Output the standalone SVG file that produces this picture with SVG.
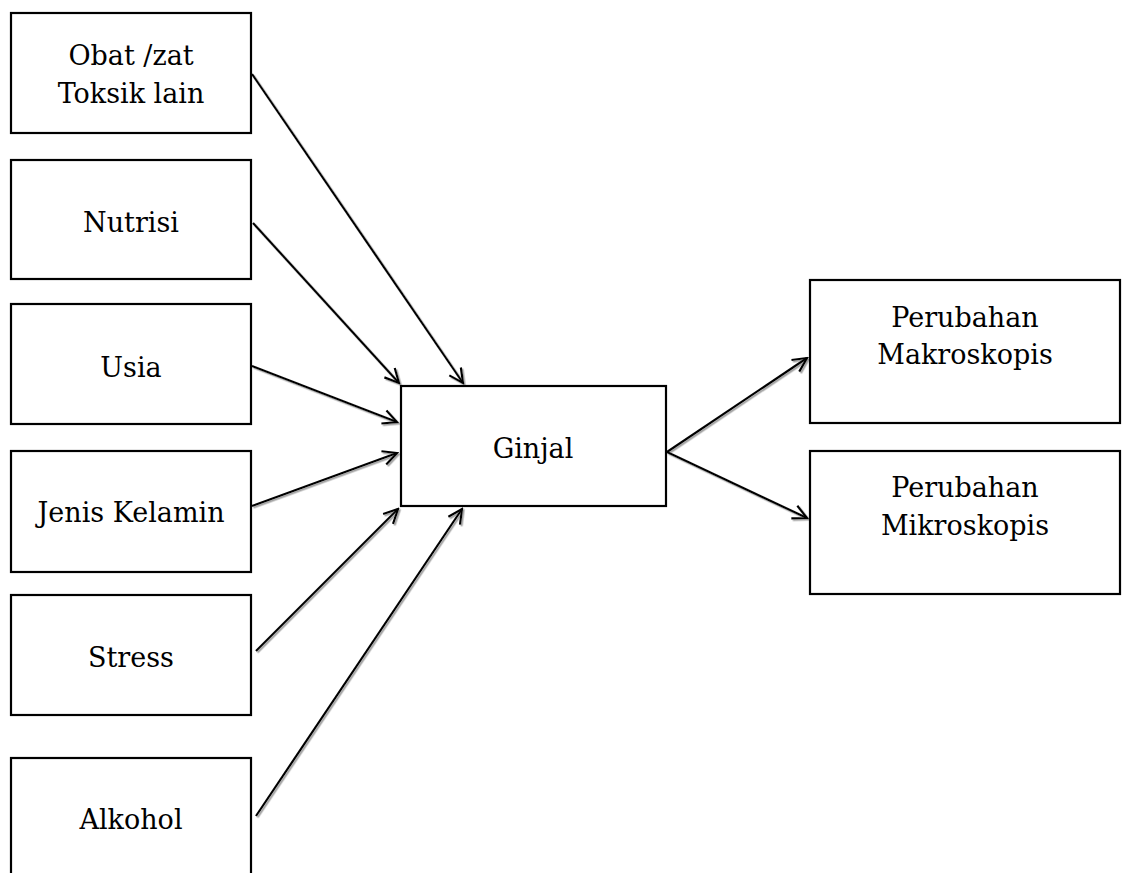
<svg xmlns="http://www.w3.org/2000/svg" width="1122" height="873" viewBox="0 0 1122 873">
<style>
.box{fill:#fff;stroke:#000;stroke-width:2.2}
.lbl{font-family:"DejaVu Serif","Liberation Serif",serif;font-size:27px;fill:#000;text-anchor:middle}
.conn{stroke:#000;stroke-width:2.2;fill:none;marker-end:url(#arr)}
</style>
<defs>
<marker id="arr" viewBox="0 0 20 20" refX="18" refY="10" markerWidth="20" markerHeight="20" markerUnits="userSpaceOnUse" orient="auto">
<path d="M4,3 L18,10 L4,17" fill="none" stroke="#000" stroke-width="2.2"/>
</marker>
<filter id="sh" x="-10%" y="-10%" width="120%" height="120%">
<feDropShadow dx="1.5" dy="1.5" stdDeviation="0.6" flood-color="#888" flood-opacity="0.8"/>
</filter>
</defs>
<g id="connectors" filter="url(#sh)">
<line class="conn" x1="252" y1="74" x2="463" y2="383"/>
<line class="conn" x1="253" y1="223" x2="399" y2="383"/>
<line class="conn" x1="252" y1="366" x2="397" y2="422"/>
<line class="conn" x1="252" y1="506" x2="397" y2="453"/>
<line class="conn" x1="256" y1="651" x2="398" y2="509"/>
<line class="conn" x1="256" y1="816" x2="462" y2="509"/>
<line class="conn" x1="667" y1="452" x2="807" y2="358"/>
<line class="conn" x1="667" y1="452" x2="807" y2="518"/>
</g>
<g id="n-obat"><rect class="box" x="11" y="13" width="240" height="120"/><text class="lbl" x="131" y="65">Obat /zat</text><text class="lbl" x="131" y="103">Toksik lain</text></g>
<g id="n-nutrisi"><rect class="box" x="11" y="160" width="240" height="119"/><text class="lbl" x="131" y="232">Nutrisi</text></g>
<g id="n-usia"><rect class="box" x="11" y="304" width="240" height="120"/><text class="lbl" x="131" y="377">Usia</text></g>
<g id="n-jenis"><rect class="box" x="11" y="451" width="240" height="121"/><text class="lbl" x="131" y="522">Jenis Kelamin</text></g>
<g id="n-stress"><rect class="box" x="11" y="595" width="240" height="120"/><text class="lbl" x="131" y="667">Stress</text></g>
<g id="n-alkohol"><rect class="box" x="11" y="758" width="240" height="130"/><text class="lbl" x="131" y="829">Alkohol</text></g>
<g id="n-ginjal"><rect class="box" x="401" y="386" width="265" height="120"/><text class="lbl" x="533" y="458">Ginjal</text></g>
<g id="n-makro"><rect class="box" x="810" y="280" width="310" height="143"/><text class="lbl" x="965" y="327">Perubahan</text><text class="lbl" x="965" y="364">Makroskopis</text></g>
<g id="n-mikro"><rect class="box" x="810" y="451" width="310" height="143"/><text class="lbl" x="965" y="497">Perubahan</text><text class="lbl" x="965" y="535">Mikroskopis</text></g>
</svg>
